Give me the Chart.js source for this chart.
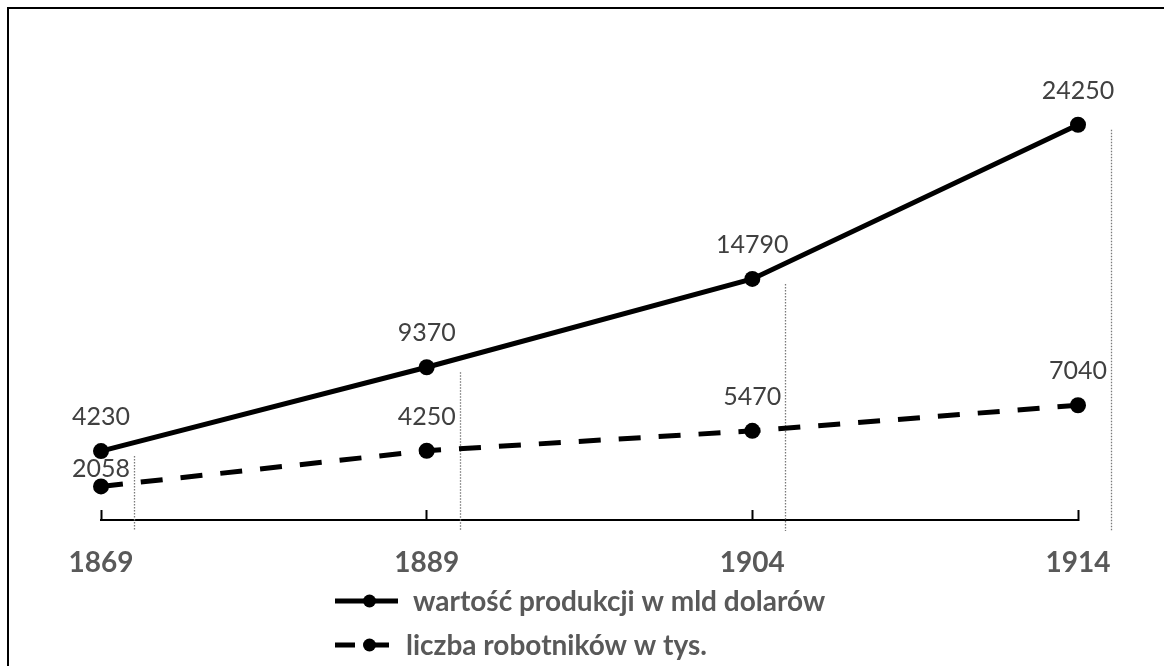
<!DOCTYPE html>
<html>
<head>
<meta charset="utf-8">
<script src="https://cdn.jsdelivr.net/npm/chart.js@4"></script>
<style>
  html, body { margin: 0; padding: 0; background: #fff; overflow: hidden; }
  #wrap { position: relative; width: 1164px; height: 666px; }
  #frame { position: absolute; left: 7px; top: 7px; width: 1300px; height: 800px;
           border-left: 2px solid #000; border-top: 2px solid #000; pointer-events: none; }
  canvas { position: absolute; left: 0; top: 0; }
</style>
</head>
<body>
<div id="wrap">
  <div id="frame"></div>
  <canvas id="c" width="1164" height="666"></canvas>
</div>
<script>
const categories = ['1869', '1889', '1904', '1914'];
const productionValues = [4230, 9370, 14790, 24250];
const workersValues = [2058, 4250, 5470, 7040];
const seriesNames = ['wartość produkcji w mld dolarów', 'liczba robotników w tys.'];
const yMin = 0;
const yMax = 30000;

const FONT = 'Lato, "Open Sans", sans-serif';

const dropLines = {
  id: 'dropLines',
  beforeDatasetsDraw(chart) {
    const { ctx, scales: { x, y } } = chart;
    ctx.save();
    ctx.strokeStyle = '#7a7a7a';
    ctx.lineWidth = 1.3;
    ctx.setLineDash([1.5, 1.5]);
    productionValues.forEach((v, i) => {
      const px = Math.round(x.getPixelForValue(i) + 33) + 0.5;
      ctx.beginPath();
      ctx.moveTo(px, y.getPixelForValue(v) + 5);
      ctx.lineTo(px, y.getPixelForValue(yMin) + 11);
      ctx.stroke();
    });
    ctx.restore();
  }
};

const valueLabels = {
  id: 'valueLabels',
  afterDatasetsDraw(chart) {
    const { ctx } = chart;
    ctx.save();
    ctx.font = '25px ' + FONT;
    ctx.fillStyle = '#404040';
    ctx.textAlign = 'center';
    ctx.textBaseline = 'alphabetic';
    chart.data.datasets.forEach((ds, di) => {
      const meta = chart.getDatasetMeta(di);
      meta.data.forEach((pt, i) => {
        const raise = ds.labelRaise[i];
        ctx.fillText(String(ds.data[i]), pt.x, pt.y - raise);
      });
    });
    ctx.restore();
  }
};

const customLegend = {
  id: 'customLegend',
  afterDraw(chart) {
    const { ctx } = chart;
    ctx.save();
    const startX = 335;
    const sampleLen = 63;
    const rows = [601, 645];
    ctx.font = 'bold 28px ' + FONT;
    chart.data.datasets.forEach((ds, di) => {
      const yy = rows[di];
      ctx.strokeStyle = ds.borderColor;
      ctx.lineWidth = 5;
      ctx.setLineDash(ds.borderDash ? [20, 14] : []);
      ctx.beginPath();
      ctx.moveTo(startX, yy);
      ctx.lineTo(startX + sampleLen, yy);
      ctx.stroke();
      ctx.setLineDash([]);
      ctx.fillStyle = ds.pointBackgroundColor;
      ctx.beginPath();
      ctx.arc(startX + sampleLen / 2 + 3, yy, 6.5, 0, Math.PI * 2);
      ctx.fill();
      ctx.fillStyle = '#595959';
      ctx.textAlign = 'left';
      ctx.textBaseline = 'middle';
      ctx.fillText(ds.label, startX + sampleLen + (di === 0 ? 15 : 8), yy + 1);
    });
    ctx.restore();
  }
};

new Chart(document.getElementById('c'), {
  type: 'line',
  data: {
    labels: categories,
    datasets: [
      {
        label: seriesNames[0],
        data: productionValues,
        borderColor: '#000',
        backgroundColor: '#000',
        pointBackgroundColor: '#000',
        pointBorderColor: '#000',
        borderWidth: 5,
        pointRadius: 8,
        pointBorderWidth: 0,
        tension: 0,
        clip: false,
        labelRaise: [26, 26, 26, 26]
      },
      {
        label: seriesNames[1],
        data: workersValues,
        borderColor: '#000',
        backgroundColor: '#000',
        pointBackgroundColor: '#000',
        pointBorderColor: '#000',
        borderWidth: 5,
        borderDash: [22, 18],
        pointRadius: 8,
        pointBorderWidth: 0,
        tension: 0,
        clip: false,
        labelRaise: [9, 26, 26, 26]
      }
    ]
  },
  options: {
    responsive: false,
    animation: false,
    devicePixelRatio: 1,
    layout: { padding: { left: 101, right: 86, top: 31, bottom: 0 } },
    plugins: {
      legend: { display: false },
      tooltip: { enabled: false },
      title: { display: false }
    },
    scales: {
      x: {
        type: 'category',
        offset: false,
        afterFit(scale) { scale.height = 146; },
        grid: {
          display: true,
          drawOnChartArea: false,
          drawTicks: true,
          tickLength: -10,
          tickWidth: 2,
          tickColor: '#000'
        },
        border: { display: true, color: '#000', width: 2 },
        ticks: {
          color: '#595959',
          font: { family: FONT, size: 28, weight: 'bold' },
          padding: 36,
          maxRotation: 0,
          autoSkip: false
        }
      },
      y: {
        display: false,
        min: yMin,
        max: yMax
      }
    }
  },
  plugins: [dropLines, valueLabels, customLegend]
});
</script>
</body>
</html>
